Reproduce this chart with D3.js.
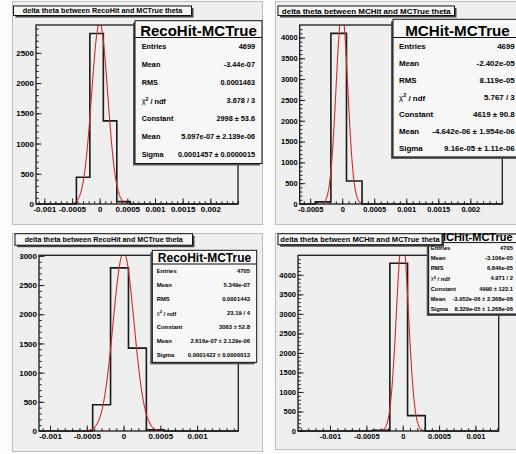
<!DOCTYPE html>
<html>
<head>
<meta charset="utf-8">
<script src="https://cdn.jsdelivr.net/npm/d3@7"></script>
<style>
  body { margin: 0; background: #fff; }
  svg { display: block; font-family: "Liberation Sans", Arial, Helvetica, sans-serif; }
  .lbl { font-weight: bold; fill: #000; }
</style>
</head>
<body>
<div id="chart"></div>
<script>
// histogram bin edges (same binning in all four pads)
const binEdges = [-0.00042, -0.000177, 0.0000667, 0.00031, 0.000553];

// bin contents
const countsRecoA = [443, 2819, 1374, 40];
const countsMCHitA = [50, 4100, 552];
const countsRecoB = [450, 2795, 1420, 20];
const countsMCHitB = [15, 4295, 395];

// gaussian fit parameters [constant, mean, sigma] and fit range
const fitRecoA = [2998, 5.097e-07, 0.0001457];
const fitMCHitA = [4619, -4.642e-06, 9.16e-05];
const fitRecoB = [3063, 2.616e-07, 0.0001422];
const fitMCHitB = [4990, -3.952e-06, 8.329e-05];
const rangeRecoA = [-0.00052, 0.00055];
const rangeMCHitA = [-0.0003, 0.00031];
const rangeRecoB = [-0.000525, 0.00056];
const rangeMCHitB = [-0.0003, 0.0003];

// axis tick labels
const xTicksA = [-0.001, -0.0005, 0, 0.0005, 0.001, 0.0015, 0.002];
const xTicksMCHitA = [-0.0005, 0, 0.0005, 0.001, 0.0015, 0.002];
const xTicksB = [-0.001, -0.0005, 0, 0.0005, 0.001];
const yTicksRecoA = [0, 500, 1000, 1500, 2000, 2500];
const yTicksMCHit = [0, 500, 1000, 1500, 2000, 2500, 3000, 3500, 4000];
const yTicksRecoB = [0, 500, 1000, 1500, 2000, 2500, 3000];

// titles and statistics boxes
const titleReco = 'delta theta between RecoHit and MCTrue theta';
const titleMCHit = 'delta theta between MCHit and MCTrue theta';
const statLabels = ['Entries', 'Mean', 'RMS', 'chi', 'Constant', 'Mean', 'Sigma'];
const statsRecoA = ['4699', '-3.44e-07', '0.0001463', '3.678 / 3', '2998 \u00b1 53.6', '5.097e-07 \u00b1 2.139e-06', '0.0001457 \u00b1 0.0000015'];
const statsMCHitA = ['4699', '-2.402e-05', '8.119e-05', '5.767 / 3', '4619 \u00b1 90.8', '-4.642e-06 \u00b1 1.954e-06', '9.16e-05 \u00b1 1.11e-06'];
const statsRecoB = ['4705', '5.349e-07', '0.0001443', '23.19 / 4', '3063 \u00b1 52.8', '2.616e-07 \u00b1 2.129e-06', '0.0001422 \u00b1 0.0000013'];
const statsMCHitB = ['4705', '-3.106e-05', '6.846e-05', '4.971 / 2', '4990 \u00b1 122.1', '-3.952e-06 \u00b1 2.368e-06', '8.329e-05 \u00b1 1.268e-06'];

const W = 516, H = 454;
const svg = d3.select('#chart').append('svg').attr('width', W).attr('height', H);
svg.append('rect').attr('width', W).attr('height', H).attr('fill', '#fbfbfb');
const defs = svg.append('defs');

const pads = [
  {id: 'p1', pad: [12, 1, 251, 224], frame: [36, 238, 25, 204], xDom: [-0.00115, 0.0025], yMax: 2960,
   xTicks: xTicksA, yTicks: yTicksRecoA, edges: binEdges, counts: countsRecoA, fit: fitRecoA, range: rangeRecoA,
   lblSize: 8, title: titleReco, tBox: [13.5, 6, 178, 9.5], tSize: 7.25,
   stats: statsRecoA, header: 'RecoHit-MCTrue', sBox: [135, 20.7, 127, 16.8, 18], hSize: 15, rSize: 7.3, lx: 141.7, vx: 255},
  {id: 'p2', pad: [275, 1, 245, 224], frame: [299.7, 502.3, 25, 204], xDom: [-0.000664, 0.0025], yMax: 4300,
   xTicks: xTicksMCHitA, yTicks: yTicksMCHit, edges: binEdges, counts: countsMCHitA, fit: fitMCHitA, range: rangeMCHitA,
   lblSize: 7.5, title: titleMCHit, tBox: [278, 6, 176.5, 9.5], tSize: 8,
   stats: statsMCHitA, header: 'MCHit-MCTrue', sBox: [393, 19.3, 129, 18.2, 17.06], hSize: 15.2, rSize: 7.9, lx: 399, vx: 514.7},
  {id: 'p3', pad: [12, 233, 251, 219], frame: [39, 238.3, 255.3, 431], xDom: [-0.00115, 0.00156], yMax: 3010,
   xTicks: xTicksB, yTicks: yTicksRecoB, edges: binEdges, counts: countsRecoB, fit: fitRecoB, range: rangeRecoB,
   lblSize: 8, title: titleReco, tBox: [15, 233.7, 177.5, 11.5], tSize: 7.2,
   stats: statsRecoB, header: 'RecoHit-MCTrue', sBox: [152.3, 250.3, 104.4, 13.7, 14.05], hSize: 12, rSize: 5.9, lx: 156.7, vx: 250},
  {id: 'p4', pad: [275, 233, 245, 217], frame: [298, 498.7, 255.3, 431], xDom: [-0.00144, 0.00132], yMax: 4500,
   xTicks: xTicksB, yTicks: yTicksMCHit, edges: binEdges, counts: countsMCHitB, fit: fitMCHitB, range: rangeMCHitB,
   lblSize: 7.5, title: titleMCHit, tBox: [278, 233.7, 164, 11], tSize: 7.55,
   stats: statsMCHitB, header: 'MCHit-MCTrue', sBox: [428.7, 234, 92, 8.6, 10.2], hSize: 11, rSize: 5.8, lx: 430.7, vx: 513}
];

pads.forEach(drawPad);

function drawPad(c) {
  const [px, py, pw, ph] = c.pad;
  defs.append('clipPath').attr('id', c.id + 'clip')
    .append('rect').attr('x', px).attr('y', py).attr('width', pw).attr('height', ph);
  const [fx0, fx1, fy0, fy1] = c.frame;
  defs.append('clipPath').attr('id', c.id + 'fclip')
    .append('rect').attr('x', fx0).attr('y', fy0).attr('width', fx1 - fx0).attr('height', fy1 - fy0);

  const g = svg.append('g').attr('clip-path', `url(#${c.id}clip)`);
  g.append('rect').attr('x', px + 0.5).attr('y', py + 0.5).attr('width', pw - 1).attr('height', ph - 1)
    .attr('fill', '#efefef').attr('stroke', '#bdbdbd');

  const x = d3.scaleLinear().domain(c.xDom).range([fx0, fx1]);
  const y = d3.scaleLinear().domain([0, c.yMax]).range([fy1, fy0]);

  // minor ticks
  const minorX = d3.range(Math.ceil(c.xDom[0] / 0.0001), Math.floor(c.xDom[1] / 0.0001) + 1).map(i => i * 0.0001);
  const minorY = d3.range(0, c.yMax, 100);
  const axisStyle = sel => {
    sel.select('.domain').remove();
    sel.selectAll('line').attr('stroke', '#222');
    sel.selectAll('text').attr('class', 'lbl').style('font-size', c.lblSize + 'px');
  };
  g.append('g').attr('transform', `translate(0,${fy1})`)
    .call(d3.axisBottom(x).tickValues(minorX).tickSize(-2.8).tickFormat(''))
    .call(axisStyle);
  g.append('g').attr('transform', `translate(0,${fy1})`)
    .call(d3.axisBottom(x).tickValues(c.xTicks).tickSize(-5.5).tickPadding(2.5).tickFormat(d => String(d)))
    .call(axisStyle);
  g.append('g').attr('transform', `translate(${fx0},0)`)
    .call(d3.axisLeft(y).tickValues(minorY).tickSize(-2.8).tickFormat(''))
    .call(axisStyle);
  g.append('g').attr('transform', `translate(${fx0},0)`)
    .call(d3.axisLeft(y).tickValues(c.yTicks).tickSize(-5.5).tickPadding(2).tickFormat(d => String(d)))
    .call(axisStyle);

  // histogram outline
  const pts = [[c.xDom[0], 0]];
  c.counts.forEach((n, i) => {
    pts.push([c.edges[i], i === 0 ? 0 : c.counts[i - 1]]);
    pts.push([c.edges[i], n]);
  });
  const last = c.counts.length;
  pts.push([c.edges[last], c.counts[last - 1]]);
  pts.push([c.edges[last], 0]);
  pts.push([c.xDom[1], 0]);
  g.append('path')
    .attr('d', d3.line().x(d => x(d[0])).y(d => y(d[1]))(pts))
    .attr('fill', 'none').attr('stroke', '#1a1a1a').attr('stroke-width', 1.6);

  // gaussian fit curve from fit parameters
  const [A, mu, sig] = c.fit;
  const xs = d3.range(0, 201).map(i => c.range[0] + (c.range[1] - c.range[0]) * i / 200);
  g.append('path')
    .attr('clip-path', `url(#${c.id}fclip)`)
    .attr('d', d3.line().x(v => x(v)).y(v => y(A * Math.exp(-0.5 * ((v - mu) / sig) ** 2)))(xs))
    .attr('fill', 'none').attr('stroke', '#d42a2a').attr('stroke-width', 1.1);

  // frame
  g.append('rect').attr('x', fx0).attr('y', fy0).attr('width', fx1 - fx0).attr('height', fy1 - fy0)
    .attr('fill', 'none').attr('stroke', '#1a1a1a').attr('stroke-width', 1.3);

  // stats box (shadow bottom-left)
  const [sx, sy, sw, sh, sr] = c.sBox;
  const sH = sh + 7 * sr;
  g.append('rect').attr('x', sx - 2).attr('y', sy + 2).attr('width', sw).attr('height', sH).attr('fill', '#555');
  g.append('rect').attr('x', sx).attr('y', sy).attr('width', sw).attr('height', sH)
    .attr('fill', '#f7f7f7').attr('stroke', '#111').attr('stroke-width', 1);
  g.append('line').attr('x1', sx).attr('x2', sx + sw).attr('y1', sy + sh).attr('y2', sy + sh)
    .attr('stroke', '#111').attr('stroke-width', 1);
  g.append('text').attr('class', 'lbl').attr('x', sx + sw / 2).attr('y', sy + sh - 2)
    .attr('text-anchor', 'middle').style('font-size', c.hSize + 'px').text(c.header);
  statLabels.forEach((lab, i) => {
    const cy = sy + sh + sr * (i + 0.5);
    const t = g.append('text').attr('class', 'lbl').attr('x', c.lx).attr('y', cy).attr('dy', '0.35em')
      .style('font-size', c.rSize + 'px');
    if (lab === 'chi') {
      t.append('tspan').style('font-weight', 'normal').text('\u03c7');
      t.append('tspan').attr('dy', '-0.45em').style('font-size', (c.rSize * 0.7) + 'px').text('2');
      t.append('tspan').attr('dy', '0.45em').text(' / ndf');
    } else {
      t.text(lab);
    }
    g.append('text').attr('class', 'lbl').attr('x', c.vx).attr('y', cy).attr('dy', '0.35em')
      .attr('text-anchor', 'end').style('font-size', c.rSize + 'px').text(c.stats[i]);
  });

  // title box (shadow bottom-right)
  const [tx, ty, tw, th] = c.tBox;
  g.append('rect').attr('x', tx + 2).attr('y', ty + 2).attr('width', tw).attr('height', th).attr('fill', '#444');
  g.append('rect').attr('x', tx).attr('y', ty).attr('width', tw).attr('height', th)
    .attr('fill', '#f7f7f7').attr('stroke', '#111').attr('stroke-width', 1);
  g.append('text').attr('class', 'lbl').attr('x', tx + tw / 2).attr('y', ty + th / 2).attr('dy', '0.35em')
    .attr('text-anchor', 'middle').style('font-size', c.tSize + 'px').text(c.title);
}
</script>
</body>
</html>
